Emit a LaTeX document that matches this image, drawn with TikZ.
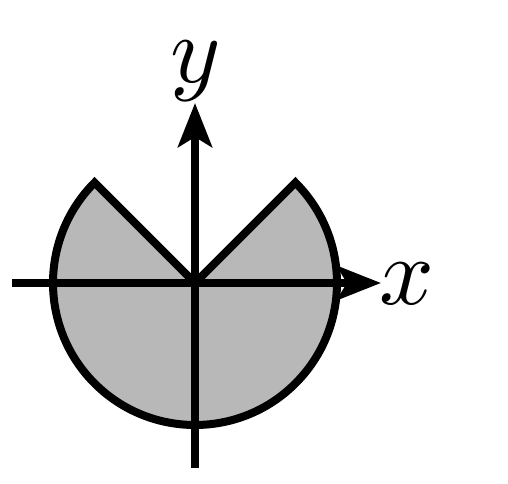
\documentclass[tikz,border=0pt]{standalone}
\usetikzlibrary{arrows.meta}
\begin{document}
\begin{tikzpicture}[x=1pt,y=1pt,
  shapestyle/.style={line width=8pt, fill=black!28, draw=black, line join=miter},
  axisstyle/.style={line width=8pt, -{Stealth[length=44pt,width=34pt,inset=10pt]}},
  lbl/.style={inner sep=0pt, scale=9.6}]
\useasboundingbox (0,0) rectangle (508,483);
\coordinate (o) at (195,200);
\draw[shapestyle] (o) -- ++(135:142) arc[start angle=135, end angle=405, radius=142] -- cycle;
\coordinate (xs) at (12,200);
\coordinate (xe) at (381,200);
\coordinate (ys) at (195,15);
\coordinate (ye) at (195,380);
\draw[axisstyle] (xs) -- (xe);
\draw[axisstyle] (ys) -- (ye);
\node[lbl] (xl) at (407,199) {$x$};
\node[lbl] (yl) at (196,412) {$y$};
\end{tikzpicture}
\end{document}
